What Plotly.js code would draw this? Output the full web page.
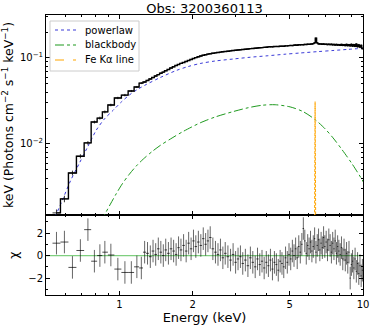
<!DOCTYPE html>
<html><head><meta charset="utf-8">
<script src="https://cdn.plot.ly/plotly-3.0.1.min.js"></script>
<style>html,body{margin:0;padding:0;background:#fff}#chart{width:374px;height:326px}</style>
</head><body><div id="chart"></div>
<script>
// ---- data (bin centres in keV) ----
const energy = [0.552,0.595,0.642,0.692,0.743,0.790,0.832,0.872,0.923,0.986,1.054,1.120,1.180,1.231,
1.270,1.305,1.340,1.375,1.410,1.445,1.480,1.515,1.550,1.590,1.630,1.670,1.710,1.750,1.790,
1.835,1.880,1.925,1.970,2.015,2.060,
2.110,2.160,2.210,2.260,2.310,2.360,
2.420,2.480,2.540,2.600,2.660,2.720,
2.790,2.860,2.930,3.000,3.070,3.140,3.210,
3.290,3.370,3.450,3.530,3.610,3.690,3.770,3.850,3.930,4.010,
4.090,4.170,4.250,4.330,4.410,4.490,4.570,4.650,4.730,4.810,4.890,4.970,
5.050,5.130,5.210,5.290,5.370,5.450,5.530,5.610,5.690,5.770,5.850,5.930,
6.010,6.090,6.170,6.250,6.330,6.410,6.490,6.570,6.650,6.730,6.810,6.890,6.970,
7.060,7.150,7.240,7.330,7.420,7.510,7.600,7.690,7.780,7.870,7.960,
8.060,8.160,8.260,8.360,8.460,8.560,8.660,8.760,8.860,8.960,
9.060,9.170,9.280,9.390,9.500,9.610,9.720,9.830,9.940];

const flux = [0.00158,0.0023,0.0046,0.0072,0.0103,0.018,0.020,0.0236,0.0284,0.0343,0.037,0.0413,0.046,0.051,
0.0525,0.0548,0.0570,0.0592,0.0618,0.0640,0.0665,0.0685,0.0712,0.0735,0.0765,0.0790,0.0818,0.0840,0.0865,
0.0885,0.0912,0.0935,0.0962,0.0985,0.1010,
0.1032,0.1055,0.1075,0.1092,0.1108,0.1122,
0.1135,0.1148,0.1160,0.1170,0.1180,0.1190,
0.1200,0.1210,0.1220,0.1230,0.1240,0.1246,0.1256,
0.1266,0.1272,0.1284,0.1290,0.1300,0.1306,0.1316,0.1320,0.1330,0.1336,
0.1346,0.1350,0.1348,0.1358,0.1362,0.1360,0.1370,0.1374,0.1372,0.1384,0.1382,0.1392,
0.1398,0.1394,0.1408,0.1414,0.1408,0.1424,0.1420,0.1432,0.1428,0.1440,0.1436,0.1446,
0.1442,0.1450,0.1454,0.1470,0.1500,0.1700,0.1500,0.1462,0.1454,0.1460,0.1446,0.1456,0.1440,
0.1450,0.1434,0.1446,0.1430,0.1442,0.1424,0.1440,0.1418,0.1436,0.1412,0.1432,
0.1408,0.1434,0.1402,0.1428,0.1398,0.1436,0.1392,0.1426,0.1386,0.1440,
0.1380,0.1430,0.1372,0.1448,0.1358,0.1420,0.1340,0.1400,0.1290];

const fluxErr = [0.00015,0.0002,0.0003,0.0004,0.0005,0.0007,0.0008,0.0009,0.001,0.0011,0.0012,0.0012,0.0013,0.0013,
0.0010,0.0010,0.0010,0.0010,0.0011,0.0011,0.0011,0.0011,0.0011,0.0012,0.0012,0.0012,0.0012,0.0012,0.0013,
0.0013,0.0013,0.0013,0.0013,0.0014,0.0014,
0.0014,0.0014,0.0014,0.0014,0.0015,0.0015,
0.0015,0.0015,0.0015,0.0015,0.0016,0.0016,
0.0016,0.0016,0.0016,0.0017,0.0017,0.0017,0.0017,
0.0017,0.0018,0.0018,0.0018,0.0018,0.0018,0.0019,0.0019,0.0019,0.0019,
0.0019,0.0020,0.0020,0.0020,0.0020,0.0021,0.0021,0.0021,0.0021,0.0022,0.0022,0.0022,
0.0022,0.0022,0.0023,0.0023,0.0023,0.0023,0.0024,0.0024,0.0024,0.0024,0.0025,0.0025,
0.0025,0.0025,0.0026,0.0026,0.0026,0.0026,0.0026,0.0027,0.0027,0.0027,0.0027,0.0028,0.0028,
0.0028,0.0028,0.0029,0.0029,0.0029,0.0030,0.0030,0.0030,0.0030,0.0031,0.0031,
0.0031,0.0032,0.0032,0.0032,0.0033,0.0033,0.0034,0.0034,0.0034,0.0035,
0.0035,0.0036,0.0036,0.0037,0.0038,0.0038,0.0039,0.0040,0.0041];

const chi = [1.1,1.2,-1.05,0.45,2.3,-0.5,0.0,0.3,0.05,-1.2,-1.5,-1.5,-1.0,-1.1,
0.3,0.2,-0.1,0.4,0.1,0.6,0.3,0.0,0.5,0.2,0.6,0.4,0.1,0.7,0.5,
0.9,0.4,1.1,0.6,1.3,0.8,
1.2,0.9,1.5,1.0,1.3,1.6,
0.6,0.3,0.1,0.5,-0.2,0.2,
-0.1,-0.4,0.1,-0.6,-0.3,-0.1,-0.7,
-0.4,-0.9,-0.2,-0.6,-1.0,-0.3,-0.8,-0.5,-1.1,-0.6,
-0.9,-0.4,-1.2,-0.6,-0.8,-1.3,-0.5,-0.7,-1.0,-0.2,-0.6,0.1,
-0.3,0.4,0.0,0.6,-0.2,0.8,0.3,1.0,2.4,1.3,0.2,0.9,
0.6,1.2,0.4,0.8,1.5,0.3,0.9,1.4,0.5,1.1,0.7,1.6,0.8,
1.2,0.5,1.4,0.9,0.3,1.1,0.6,1.3,0.2,0.8,0.4,
0.1,0.7,-0.3,0.5,-0.4,0.2,-0.6,0.3,-2.0,-0.8,
-0.5,-1.1,-0.3,-1.4,-0.7,-1.6,-0.9,-1.8,-1.3];

// model components
const plE = [0.531,0.547,0.584,0.630,0.686,0.739,0.805,0.868,0.945,1.019,1.099,1.185,1.290,1.472,1.713,1.918,2.146,2.474,2.93,3.44,4.04,4.79,5.52,6.54,7.53,8.68,10.0];
const plF = [0.00124,0.00146,0.00223,0.00372,0.00601,0.0091,0.01455,0.0195,0.0248,0.0308,0.0371,0.0430,0.0492,0.0593,0.0716,0.0796,0.0863,0.0923,0.0973,0.1020,0.1060,0.1107,0.1143,0.1187,0.1222,0.1260,0.1297];
const bbE = [0.836,0.868,0.919,0.972,1.029,1.099,1.174,1.254,1.365,1.472,1.618,1.829,2.146,2.474,2.93,3.38,3.855,4.36,5.02,5.675,6.36,6.99,7.53,8.2,9.01,9.91,10.06];
const bbF = [0.00124,0.00149,0.00200,0.00265,0.00345,0.00445,0.00555,0.00668,0.00820,0.00962,0.0114,0.0140,0.0176,0.0206,0.0238,0.0264,0.0282,0.0286,0.0270,0.0238,0.0192,0.0150,0.0118,0.0086,0.0059,0.00385,0.00355];
const feE = [6.30,6.36,6.42];
const feF = [0.0001,0.031,0.0001];

// legend labels
const legendNames = ['powerlaw','blackbody','Fe K\u03b1 line'];
const legendColors = ['#3a3ad8','#1f9a1f','#ffa500'];
const legendDash = ['dot','dashdot','dash'];

// bin half-widths from neighbouring centres
const lo = energy.map((c,i)=> i>0 ? Math.sqrt(energy[i-1]*c) : c/Math.sqrt(energy[1]/c));
const hi = energy.map((c,i)=> i<energy.length-1 ? Math.sqrt(energy[i+1]*c) : c*Math.sqrt(c/energy[i-1]));
const errPlus = energy.map((c,i)=>hi[i]-c), errMinus = energy.map((c,i)=>c-lo[i]);
const ones = energy.map(()=>1);

const F = 'DejaVu Sans, sans-serif';
const traces = [
 {x:plE,y:plF,xaxis:'x2',yaxis:'y2',mode:'lines',name:legendNames[0],showlegend:false,line:{color:legendColors[0],width:1,dash:'dot',shape:'spline',smoothing:0.8}},
 {x:bbE,y:bbF,xaxis:'x2',yaxis:'y2',mode:'lines',name:legendNames[1],showlegend:false,line:{color:legendColors[1],width:1,dash:'dashdot',shape:'spline',smoothing:0.8}},
 {x:feE,y:feF,xaxis:'x2',yaxis:'y2',mode:'lines',name:legendNames[2],showlegend:false,line:{color:legendColors[2],width:1,dash:'3px,1.5px'}},
 {x:energy,y:flux,xaxis:'x2',yaxis:'y2',mode:'lines',showlegend:false,line:{color:'#000',width:1.4,shape:'hvh'}},
 {x:energy,y:flux,xaxis:'x2',yaxis:'y2',mode:'markers',showlegend:false,marker:{size:1,color:'rgba(0,0,0,0)'},
  error_x:{type:'data',symmetric:false,array:errPlus,arrayminus:errMinus,color:'rgba(0,0,0,0.8)',thickness:1,width:0},
  error_y:{type:'data',array:fluxErr,color:'rgba(0,0,0,0.8)',thickness:1,width:0}},
 {x:[0.5,10],y:[0,0],xaxis:'x',yaxis:'y',mode:'lines',showlegend:false,line:{color:'rgba(0,160,0,0.5)',width:1.2}},
 {x:energy,y:chi,xaxis:'x',yaxis:'y',mode:'markers',showlegend:false,marker:{size:1,color:'rgba(0,0,0,0)'},
  error_x:{type:'data',symmetric:false,array:errPlus,arrayminus:errMinus,color:'rgba(0,0,0,0.7)',thickness:1,width:0},
  error_y:{type:'data',array:ones,color:'rgba(0,0,0,0.6)',thickness:1,width:0}}
];

// legend box (matplotlib style) in paper coordinates of the plot area
const W = 317, H = 280, L = 46, T = 15;
const px = v => (v - L) / W, py = v => 1 - (v - T) / H;
const shapes = [{type:'rect',xref:'paper',yref:'paper',x0:px(50),x1:px(139),y0:py(21),y1:py(71),
  line:{color:'#cccccc',width:1},fillcolor:'rgba(255,255,255,0.85)',layer:'above'}];
const annotations = [];
legendNames.forEach((n,i)=>{
  const yy = 30 + 15*i;
  shapes.push({type:'line',xref:'paper',yref:'paper',x0:px(55),x1:px(76),y0:py(yy),y1:py(yy),
    line:{color:legendColors[i],width:1.2,dash:legendDash[i]},layer:'above'});
  annotations.push({xref:'paper',yref:'paper',x:px(83),y:py(yy),text:n,showarrow:false,xanchor:'left',yanchor:'middle',
    font:{family:F,size:10,color:'#000'}});
});

const xMinor = [0.5,0.6,0.7,0.8,0.9,3,4,6,7,8,9];
const common = {showline:true,linecolor:'#000',linewidth:1,mirror:'allticks',ticks:'inside',ticklen:4,tickcolor:'#000',
  showgrid:false,zeroline:false,tickfont:{family:F,size:10,color:'#000'}};
const layout = {
 width:374,height:326,margin:{l:46,r:11,t:15,b:31},paper_bgcolor:'#fff',plot_bgcolor:'#fff',
 font:{family:F,color:'#000'},showlegend:false,shapes:shapes,annotations:annotations,
 title:{text:'Obs: 3200360113',font:{family:F,size:13,color:'#000'},x:0.5,xref:'paper',y:1-8/326,yref:'container',yanchor:'middle'},
 xaxis:Object.assign({},common,{type:'log',range:[Math.log10(0.5),1],anchor:'y',tickvals:[1,2,5,10],ticktext:['1','2','5','10'],
   minor:{tickvals:xMinor,ticks:'inside',ticklen:2,tickcolor:'#000'},
   title:{text:'Energy (keV)',font:{family:F,size:13,color:'#000'},standoff:2}}),
 xaxis2:Object.assign({},common,{type:'log',range:[Math.log10(0.5),1],anchor:'y2',matches:'x',tickvals:[1,2,5,10],showticklabels:false,
   minor:{tickvals:xMinor,ticks:'inside',ticklen:2,tickcolor:'#000'}}),
 yaxis:Object.assign({},common,{domain:[0,0.2857],range:[-3.5,3.6],tickvals:[-2,0,2],ticktext:['\u22122','0','2'],
   minor:{tickvals:[-3,-1,1,3],ticks:'inside',ticklen:2,tickcolor:'#000'},
   title:{text:'\u03c7',font:{family:F,size:12.5,color:'#000'},standoff:6}}),
 yaxis2:Object.assign({},common,{domain:[0.2857,1],type:'log',range:[-2.826,-0.5],tickvals:[0.01,0.1],ticktext:['10<sup>\u22122</sup>','10<sup>\u22121</sup>'],
   minor:{tickvals:[0.002,0.003,0.004,0.005,0.006,0.007,0.008,0.009,0.02,0.03,0.04,0.05,0.06,0.07,0.08,0.09,0.2,0.3],ticks:'inside',ticklen:2,tickcolor:'#000'},
   title:{text:'keV (Photons cm<sup>\u22122</sup> s<sup>\u22121</sup> keV<sup>\u22121</sup>)',font:{family:F,size:12.5,color:'#000'},standoff:3}})
};
Plotly.newPlot('chart',traces,layout,{staticPlot:true,displayModeBar:false});
</script></body></html>
